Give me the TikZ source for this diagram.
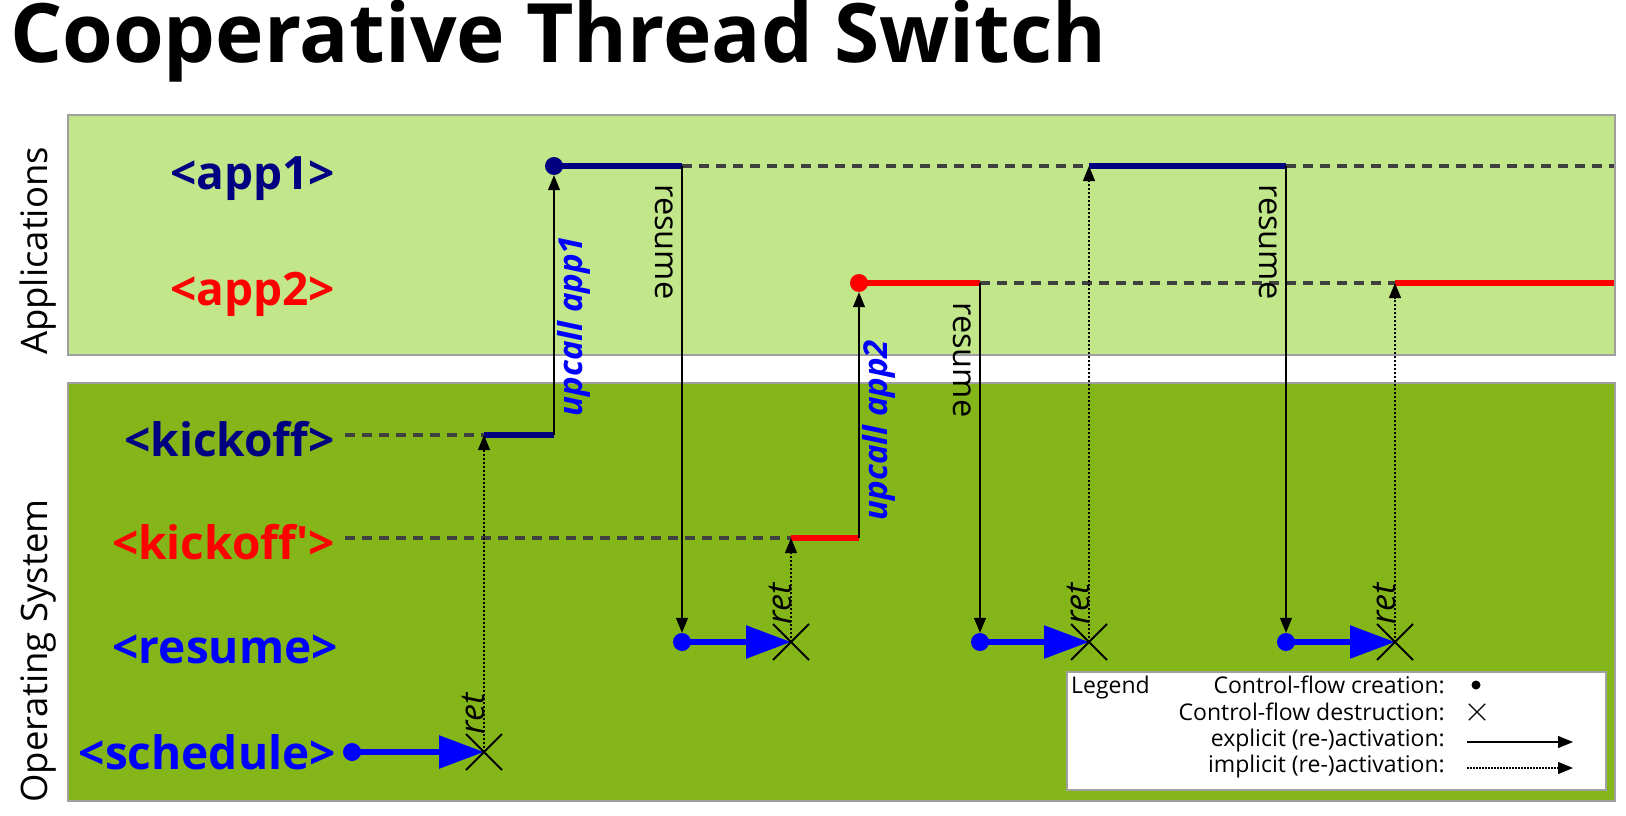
\documentclass[tikz,border=0pt]{standalone}
\usepackage{fontspec}
\setmainfont{Open Sans}
\usetikzlibrary{arrows.meta,shapes.misc}
\definecolor{navyc}{RGB}{0,0,128}
\definecolor{appbg}{RGB}{194,230,138}
\definecolor{osbg}{RGB}{132,182,26}
\definecolor{dgray}{RGB}{64,64,64}
\definecolor{boxgray}{RGB}{160,160,160}
\begin{document}
\begin{tikzpicture}[x=1pt,y=-1pt,
  panel/.style={draw=boxgray, line width=1.5pt, anchor=north west, inner sep=0},
  rowlbl/.style={font=\fontsize{46}{52}\selectfont\bfseries, anchor=base east, inner sep=0},
  sidelbl/.style={font=\fontsize{36.5}{40}\selectfont, rotate=90, inner sep=0},
  cdot/.style={circle, fill=#1, inner sep=0, minimum size=18pt},
  flow/.style={draw=#1, line width=5.5pt},
  dashln/.style={draw=dgray, line width=4pt, dash pattern=on 10pt off 7pt},
  expl/.style={draw=black, line width=1.2pt, -{Triangle[length=15pt,width=12pt]}},
  impl/.style={draw=black, line width=1.2pt, dash pattern=on 2pt off 2pt, -{Triangle[length=15pt,width=12pt]}},
  bigarr/.style={draw=blue, line width=5.5pt, -{Triangle[length=45pt,width=32pt]}},
  xmark/.style={cross out, draw=black, line width=2pt, minimum size=34pt, inner sep=0},
  vlbl/.style={font=\fontsize{32.5}{36}\selectfont, rotate=-90, inner sep=0},
  uplbl/.style={font=\fontsize{33}{38}\selectfont\bfseries\itshape, text=blue, rotate=90, inner sep=0},
  retlbl/.style={font=\fontsize{34}{38}\selectfont\itshape, rotate=90, anchor=base west, inner sep=0},
  leg/.style={font=\fontsize{23}{26}\selectfont, anchor=base east, inner sep=0},
]
\useasboundingbox (0,0) rectangle (1626,816);
% title
\node[anchor=base west, inner sep=0, font=\fontsize{82}{94}\selectfont\bfseries] (title) at (10,63) {Cooperative Thread Switch};
% panels
\node[panel, fill=appbg, minimum width=1547pt, minimum height=240pt] (apps) at (67,114) {};
\node[panel, fill=osbg, minimum width=1547pt, minimum height=418pt] (os) at (67,382) {};
\node[sidelbl] (lapps) at (38,251) {Applications};
\node[sidelbl] (los) at (38,651) {Operating System};
% row labels
\node[rowlbl, text=navyc] (lapp1) at (335,189) {<app1>};
\node[rowlbl, text=red] (lapp2) at (335,305) {<app2>};
\node[rowlbl, text=navyc] (lk1) at (335,456) {<kickoff>};
\node[rowlbl, text=red] (lk2) at (335,559) {<kickoff\textquotesingle>};
\node[rowlbl, text=blue] (lres) at (338,663) {<resume>};
\node[rowlbl, text=blue] (lsch) at (336,769) {<schedule>};
% app1 row
\node[cdot=navyc] (a1d) at (554,166) {};
\coordinate (a1r1) at (682,166);
\coordinate (a1b) at (1089,166);
\coordinate (a1r2) at (1286,166);
\coordinate (a1end) at (1614,166);
\draw[dashln] (a1r1) -- (a1b);
\draw[dashln] (a1r2) -- (a1end);
\draw[flow=navyc] (a1d.center) -- (a1r1);
\draw[flow=navyc] (a1b) -- (a1r2);
% app2 row
\node[cdot=red] (a2d) at (859,283) {};
\coordinate (a2r) at (980,283);
\coordinate (a2b) at (1395,283);
\coordinate (a2end) at (1614,283);
\draw[dashln] (a2r) -- (a2b);
\draw[flow=red] (a2d.center) -- (a2r);
\draw[flow=red] (a2b) -- (a2end);
% kickoff rows
\coordinate (k1s) at (345,435);
\coordinate (k1b) at (484,435);
\coordinate (k1e) at (554,435);
\draw[dashln] (k1s) -- (k1b);
\draw[flow=navyc] (k1b) -- (k1e);
\coordinate (k2s) at (345,538);
\coordinate (k2b) at (791,538);
\coordinate (k2e) at (859,538);
\draw[dashln] (k2s) -- (k2b);
\draw[flow=red] (k2b) -- (k2e);
% resume / schedule rows
\node[cdot=blue] (sd) at (352,752) {};
\coordinate (xs) at (484,752);
\node[cdot=blue] (rd1) at (682,642) {};
\coordinate (x1) at (791,642);
\node[cdot=blue] (rd2) at (980,642) {};
\coordinate (x2) at (1089,642);
\node[cdot=blue] (rd3) at (1286,642) {};
\coordinate (x3) at (1395,642);
\draw[bigarr] (sd.center) -- (xs);
\draw[bigarr] (rd1.center) -- (x1);
\draw[bigarr] (rd2.center) -- (x2);
\draw[bigarr] (rd3.center) -- (x3);
% explicit activations
\draw[expl] (k1e) -- (a1d);
\draw[expl] (k2e) -- (a2d);
\draw[expl] (a1r1) -- (rd1);
\draw[expl] (a2r) -- (rd2);
\draw[expl] (a1r2) -- (rd3);
% implicit activations
\draw[impl] (xs) -- (k1b);
\draw[impl] (x1) -- (k2b);
\draw[impl] (x2) -- (a1b);
\draw[impl] (x3) -- (a2b);
% destruction marks
\node[xmark] (xsm) at (xs) {};
\node[xmark] (x1m) at (x1) {};
\node[xmark] (x2m) at (x2) {};
\node[xmark] (x3m) at (x3) {};
% labels
\node[uplbl] (u1) at (574,326) {upcall app1};
\node[uplbl] (u2) at (879,430) {upcall app2};
\node[vlbl] (r1) at (664,242) {resume};
\node[vlbl] (r2) at (962,360) {resume};
\node[vlbl] (r3) at (1268,242) {resume};
\node[retlbl] (t0) at (484,735) {ret};
\node[retlbl] (t1) at (791,625) {ret};
\node[retlbl] (t2) at (1089,625) {ret};
\node[retlbl] (t3) at (1395,625) {ret};
% legend
\node[panel, fill=white, minimum width=539pt, minimum height=118pt] (legbox) at (1066,671) {};
\node[font=\fontsize{23}{26}\selectfont, anchor=base west, inner sep=0] (legt) at (1071,693) {Legend};
\node[leg] (l1) at (1445,693) {Control-flow creation:};
\node[leg] (l2) at (1445,720) {Control-flow destruction:};
\node[leg] (l3) at (1445,746) {explicit (re-)activation:};
\node[leg] (l4) at (1445,772) {implicit (re-)activation:};
\node[circle, fill=black, inner sep=0, minimum size=9pt] (ld) at (1476,685) {};
\node[cross out, draw=black, line width=1.3pt, minimum size=15pt, inner sep=0] (lx) at (1477,712) {};
\coordinate (le1s) at (1467,742);
\coordinate (le1e) at (1573,742);
\draw[expl] (le1s) -- (le1e);
\coordinate (le2s) at (1467,768);
\coordinate (le2e) at (1573,768);
\draw[impl, dash pattern=on 1.5pt off 1.5pt] (le2s) -- (le2e);
\end{tikzpicture}
\end{document}
